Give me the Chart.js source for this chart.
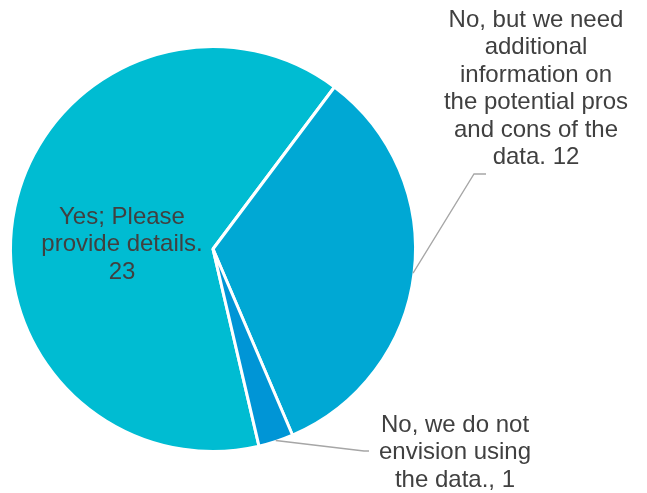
<!DOCTYPE html>
<html>
<head>
<meta charset="utf-8">
<script src="https://cdn.jsdelivr.net/npm/chart.js@4.4.1/dist/chart.umd.min.js"></script>
<style>
  html, body { margin: 0; padding: 0; background: #fff; }
  #wrap { width: 647px; height: 493px; }
</style>
</head>
<body>
<div id="wrap"><canvas id="pie" width="647" height="493"></canvas></div>
<script>
const categories = [
    'Yes; Please provide details.',
    'No, but we need additional information on the potential pros and cons of the data.',
    'No, we do not envision using the data.'
];
const responses = [23, 12, 1];
const sliceColors = ['#00BCD2', '#00A8D4', '#0095D6'];

// label text, split the way the chart wraps it
const labelLines = [
    ['Yes; Please', 'provide details.', String(responses[0])],
    ['No, but we need', 'additional', 'information on', 'the potential pros', 'and cons of the', 'data. ' + responses[1]],
    ['No, we do not', 'envision using', 'the data., ' + responses[2]]
];
// where each label block sits (centre x, first baseline) and its leader elbow
const labelPos = [
    { x: 122, y: 224, leader: null },
    { x: 536, y: 27, leader: [[474, 174], [486, 174]] },
    { x: 455, y: 432, leader: [[364, 451], [369, 451]] }
];
const LINE_H = 27.4;

const pieLabels = {
    id: 'pieLabels',
    afterDatasetsDraw(chart) {
        const ctx = chart.ctx;
        const arcs = chart.getDatasetMeta(0).data;
        ctx.save();

        // leader lines from the middle of each slice's outer edge
        ctx.strokeStyle = '#A6A6A6';
        ctx.lineWidth = 1.3;
        arcs.forEach((arc, i) => {
            const lp = labelPos[i];
            if (!lp.leader) return;
            const p = arc.getProps(['x', 'y', 'startAngle', 'endAngle', 'outerRadius'], true);
            const mid = (p.startAngle + p.endAngle) / 2;
            const r = p.outerRadius - 1;
            ctx.beginPath();
            ctx.moveTo(p.x + Math.cos(mid) * r, p.y + Math.sin(mid) * r);
            lp.leader.forEach(pt => ctx.lineTo(pt[0], pt[1]));
            ctx.stroke();
        });

        ctx.fillStyle = '#404040';
        ctx.font = '24px "Liberation Sans", Arial, sans-serif';
        ctx.textAlign = 'center';
        ctx.textBaseline = 'alphabetic';
        labelLines.forEach((lines, i) => {
            const lp = labelPos[i];
            lines.forEach((t, j) => ctx.fillText(t, lp.x, lp.y + j * LINE_H));
        });
        ctx.restore();
    }
};

new Chart(document.getElementById('pie'), {
    type: 'pie',
    data: {
        labels: categories,
        datasets: [{
            data: responses,
            backgroundColor: sliceColors,
            borderColor: '#ffffff',
            borderWidth: 3
        }]
    },
    options: {
        responsive: false,
        animation: false,
        rotation: 166.87,
        layout: { padding: { left: 9, right: 230, top: 45, bottom: 40 } },
        plugins: {
            legend: { display: false },
            tooltip: { enabled: false }
        }
    },
    plugins: [pieLabels]
});
</script>
</body>
</html>
